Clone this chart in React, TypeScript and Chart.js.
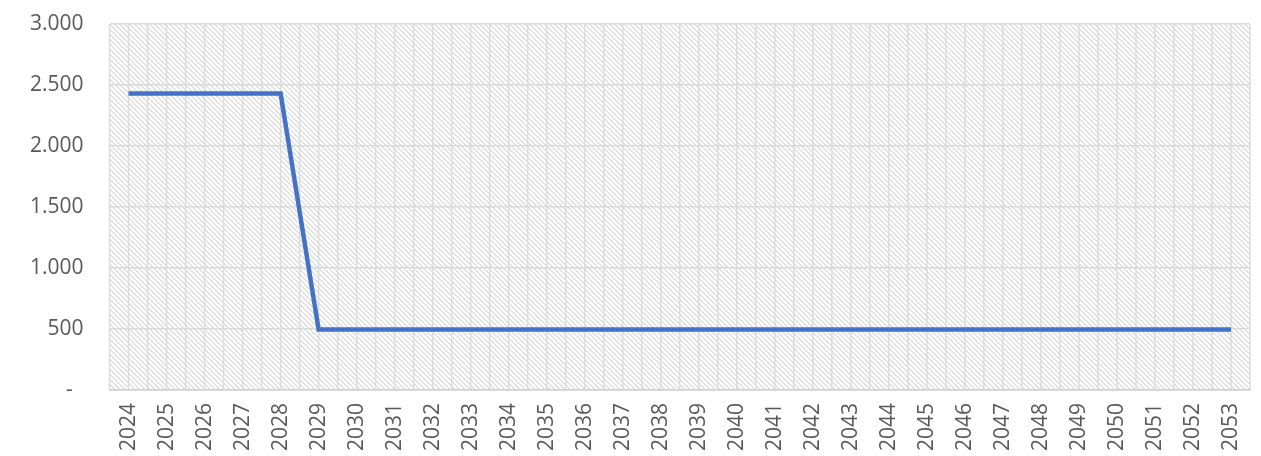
import React, { useEffect, useRef } from "react";
import { Chart, registerables } from "chart.js";

Chart.register(...registerables);

const years: string[] = [
  "2024", "2025", "2026", "2027", "2028", "2029", "2030", "2031", "2032", "2033",
  "2034", "2035", "2036", "2037", "2038", "2039", "2040", "2041", "2042", "2043",
  "2044", "2045", "2046", "2047", "2048", "2049", "2050", "2051", "2052", "2053",
];

const values: number[] = [
  2430, 2430, 2430, 2430, 2430, 495, 495, 495, 495, 495,
  495, 495, 495, 495, 495, 495, 495, 495, 495, 495,
  495, 495, 495, 495, 495, 495, 495, 495, 495, 495,
];

const yMin = 0;
const yMax = 3000;
const yStep = 500;

function formatTick(v: number): string {
  if (v === 0) return "-  ";
  return String(v).replace(/\B(?=(\d{3})+(?!\d))/g, ".");
}

const hatchPlugin = {
  id: "hatchBg",
  beforeDraw(chart: any) {
    const { ctx, chartArea, scales } = chart;
    if (!chartArea) return;
    const s = 5;
    const pc = document.createElement("canvas");
    pc.width = s;
    pc.height = s;
    const pctx = pc.getContext("2d")!;
    pctx.fillStyle = "#ffffff";
    pctx.fillRect(0, 0, s, s);
    pctx.fillStyle = "#e0e0e0";
    for (let i = 0; i < s; i++) {
      pctx.fillRect(i, i, 1, 1);
      pctx.fillRect((i + 1) % s, i, 1, 1);
    }
    const pattern = ctx.createPattern(pc, "repeat");
    ctx.save();
    ctx.fillStyle = pattern;
    ctx.fillRect(chartArea.left, chartArea.top, chartArea.right - chartArea.left, chartArea.bottom - chartArea.top);
    const xs = scales.x;
    const n = years.length;
    const half = (xs.getPixelForValue(1) - xs.getPixelForValue(0)) / 2;
    ctx.strokeStyle = "#dcdcdc";
    ctx.lineWidth = 1.5;
    ctx.beginPath();
    for (let i = 0; i < n; i++) {
      const c = xs.getPixelForValue(i);
      const pts = [c - half, c];
      if (i === n - 1) pts.push(c + half);
      for (const p of pts) {
        ctx.moveTo(p, chartArea.top);
        ctx.lineTo(p, chartArea.bottom);
      }
    }
    ctx.stroke();
    ctx.restore();
  },
};

export default function App() {
  const ref = useRef<HTMLCanvasElement | null>(null);

  useEffect(() => {
    document.body.style.margin = "0";
    const canvas = ref.current!;
    const chart = new Chart(canvas, {
      type: "line",
      data: {
        labels: years,
        datasets: [
          {
            data: values,
            borderColor: "#4472C4",
            borderWidth: 4.5,
            pointRadius: 0,
            tension: 0,
            fill: false,
          },
        ],
      },
      options: {
        animation: false,
        responsive: false,
        maintainAspectRatio: false,
        layout: { padding: { left: 4, right: 11, top: 0, bottom: 0 } },
        plugins: { legend: { display: false }, tooltip: { enabled: false } },
        scales: {
          x: {
            type: "category",
            offset: true,
            grid: { display: false, drawTicks: false },
            border: { display: true, color: "#d0d0d0", width: 1.5 },
            afterFit: (s: any) => {
              s.height = 66;
              s.paddingLeft = 0;
              s.paddingRight = 0;
            },
            ticks: {
              autoSkip: false,
              minRotation: 90,
              maxRotation: 90,
              padding: 13,
              color: "#595959",
              font: { family: "'Open Sans', 'Noto Sans', sans-serif", size: 21 },
            },
          },
          y: {
            min: yMin,
            max: yMax,
            grid: { color: "#d9d9d9", lineWidth: 1.5, drawTicks: false },
            border: { display: false },
            afterFit: (s: any) => {
              s.paddingTop = 24;
              s.paddingBottom = 0;
            },
            ticks: {
              stepSize: yStep,
              padding: 26,
              color: "#595959",
              font: { family: "'Open Sans', 'Noto Sans', sans-serif", size: 21 },
              callback: (v: any) => formatTick(Number(v)),
            },
          },
        },
      },
      plugins: [hatchPlugin],
    });
    return () => chart.destroy();
  }, []);

  return (
    <div style={{ position: "absolute", left: 0, top: 0, width: 1261, height: 456, background: "#fff" }}>
      <canvas ref={ref} width={1261} height={456} style={{ display: "block" }} />
    </div>
  );
}
